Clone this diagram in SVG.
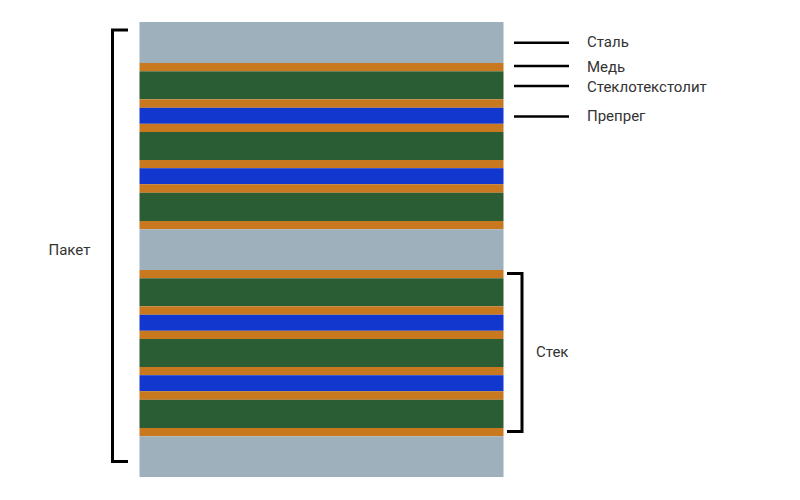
<svg xmlns="http://www.w3.org/2000/svg" width="800" height="500" viewBox="0 0 800 500">
<style>
.steel{fill:#9eb0bc}
.cu{fill:#c8781e}
.fr4{fill:#2a5d34}
.pp{fill:#1237cf}
.br{fill:none;stroke:#000;stroke-width:3}
.ln{stroke:#000;stroke-width:2.5}
text{font-family:Roboto,"Liberation Sans",sans-serif;font-size:15px;fill:#333}
</style>
<defs>
<g id="stack">
<rect class="cu" x="0" y="0" width="364" height="8.3"/>
<rect class="fr4" x="0" y="8.3" width="364" height="28"/>
<rect class="cu" x="0" y="36.3" width="364" height="8.5"/>
<rect class="pp" x="0" y="44.8" width="364" height="16"/>
<rect class="cu" x="0" y="60.8" width="364" height="8.2"/>
<rect class="fr4" x="0" y="69" width="364" height="28"/>
<rect class="cu" x="0" y="97" width="364" height="8.2"/>
<rect class="pp" x="0" y="105.2" width="364" height="16"/>
<rect class="cu" x="0" y="121.2" width="364" height="8.6"/>
<rect class="fr4" x="0" y="129.8" width="364" height="28.2"/>
<rect class="cu" x="0" y="158" width="364" height="8.3"/>
</g>
</defs>
<g id="package">
<rect class="steel" x="139.5" y="22" width="364" height="41"/>
<use href="#stack" x="139.5" y="63"/>
<rect class="steel" x="139.5" y="229.3" width="364" height="40.7"/>
<use href="#stack" x="139.5" y="270"/>
<rect class="steel" x="139.5" y="436.3" width="364" height="40.7"/>
</g>
<g id="connectors">
<path class="br" d="M128,30 H112.5 V461.5 H128"/>
<path class="br" d="M507,273.5 H522 V431.5 H507"/>
<line class="ln" x1="514" y1="42.7" x2="569" y2="42.7"/>
<line class="ln" x1="514" y1="66" x2="569" y2="66"/>
<line class="ln" x1="514" y1="86" x2="569" y2="86"/>
<line class="ln" x1="514" y1="116.5" x2="569" y2="116.5"/>
</g>
<g id="labels">
<text x="587" y="46.5">Сталь</text>
<text x="587" y="71.5">Медь</text>
<text x="587" y="91.5">Стеклотекстолит</text>
<text x="587" y="120.5">Препрег</text>
<text x="48.5" y="254.5">Пакет</text>
<text x="536" y="357">Стек</text>
</g>
</svg>
